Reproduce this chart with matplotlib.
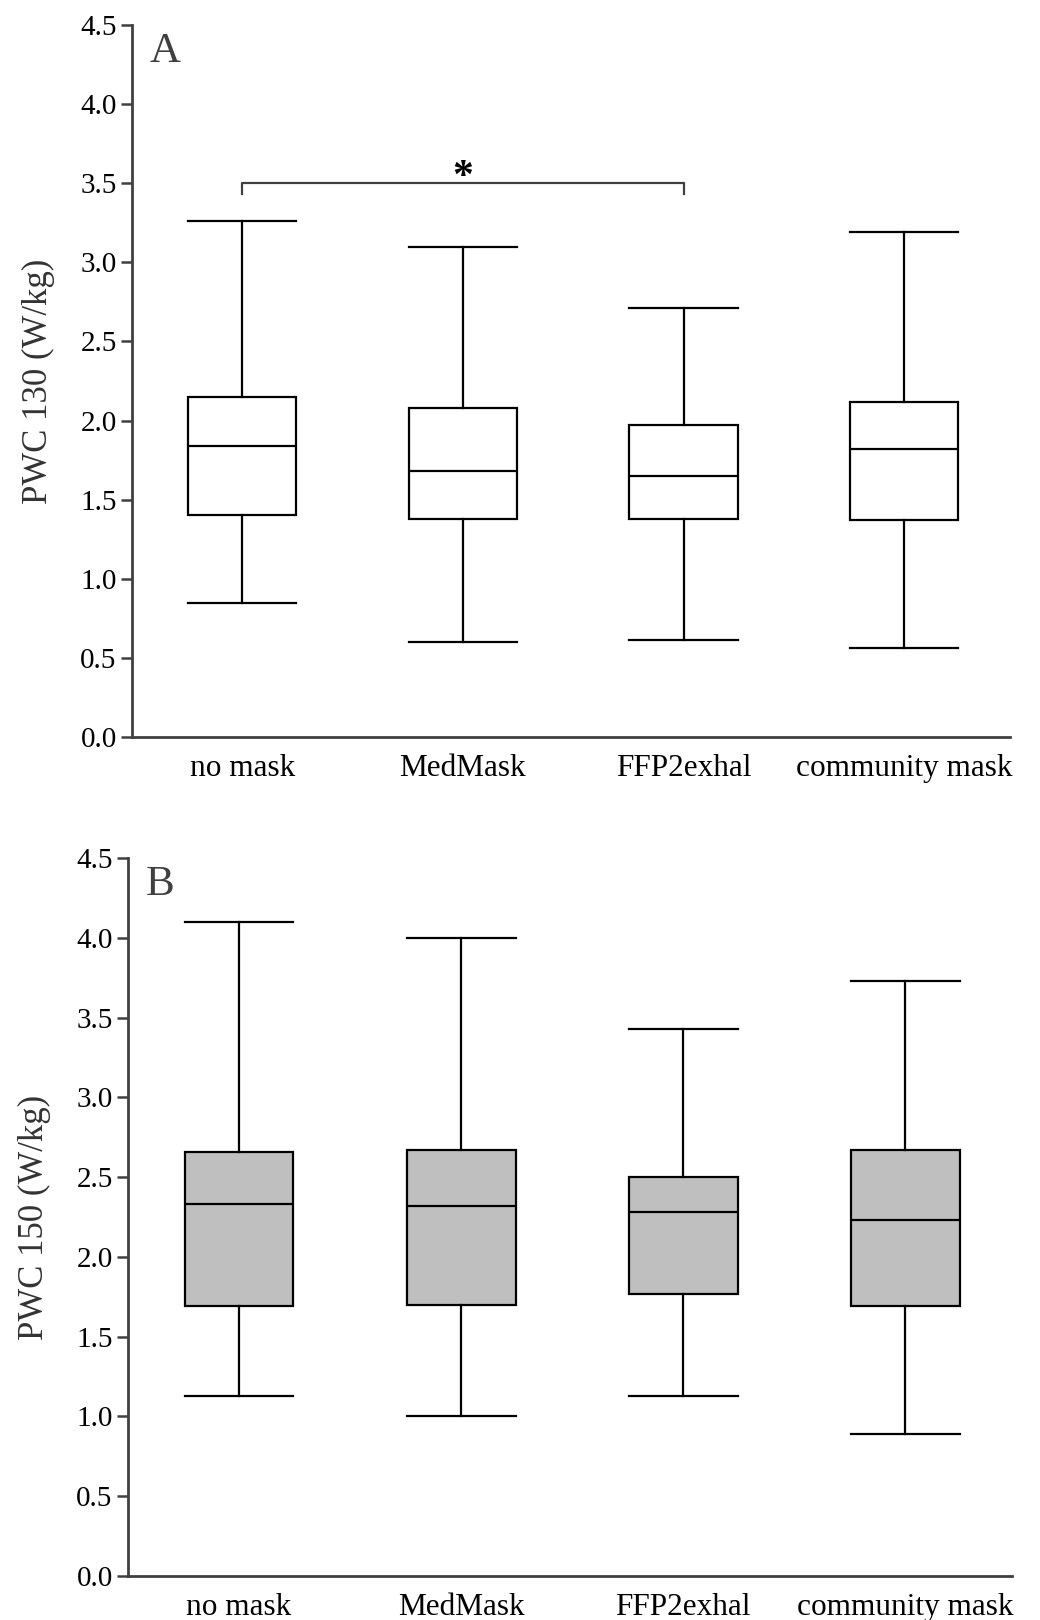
import numpy as np
import matplotlib.pyplot as plt

plt.rcParams['font.family'] = ['Liberation Serif', 'DejaVu Serif']

groups = ["no mask", "MedMask", "FFP2exhal", "community mask"]

# panel A: PWC 130 (W/kg)
a_low = [0.85, 0.60, 0.61, 0.56]
a_q1 = [1.40, 1.38, 1.38, 1.37]
a_med = [1.84, 1.68, 1.65, 1.82]
a_q3 = [2.15, 2.08, 1.97, 2.12]
a_high = [3.26, 3.10, 2.71, 3.19]

# panel B: PWC 150 (W/kg)
b_low = [1.13, 1.00, 1.13, 0.89]
b_q1 = [1.69, 1.70, 1.77, 1.69]
b_med = [2.33, 2.32, 2.28, 2.23]
b_q3 = [2.66, 2.67, 2.50, 2.67]
b_high = [4.10, 4.00, 3.43, 3.73]

yticks = [0.0, 0.5, 1.0, 1.5, 2.0, 2.5, 3.0, 3.5, 4.0, 4.5]
spine_col = "#404040"


def stats(low, q1, med, q3, high):
    return [dict(whislo=l, q1=a, med=m, q3=b, whishi=h, fliers=[])
            for l, a, m, b, h in zip(low, q1, med, q3, high)]


fig = plt.figure(figsize=(10.4, 16.2), dpi=100)
axA = fig.add_axes([132 / 1040, 1 - 737 / 1620, 878 / 1040, 712 / 1620])
axB = fig.add_axes([128 / 1040, 1 - 1576 / 1620, 884 / 1040, 718 / 1620])

panels = [
    (axA, stats(a_low, a_q1, a_med, a_q3, a_high), "white", "PWC 130 (W/kg)", "A"),
    (axB, stats(b_low, b_q1, b_med, b_q3, b_high), "#bfbfbf", "PWC 150 (W/kg)", "B"),
]

for ax, st, fill, ylab, letter in panels:
    pos = np.arange(len(groups))
    ax.bxp(st, positions=pos, widths=0.49, patch_artist=True, showfliers=False,
           boxprops=dict(facecolor=fill, edgecolor="black", linewidth=1.6),
           medianprops=dict(color="black", linewidth=1.6),
           whiskerprops=dict(color="black", linewidth=1.6),
           capprops=dict(color="black", linewidth=1.6),
           capwidths=0.49)
    ax.set_xlim(-0.5, 3.48)
    ax.set_ylim(0, 4.5)
    ax.set_yticks(yticks)
    ax.set_yticklabels([f"{t:.1f}" for t in yticks])
    ax.set_xticks(pos)
    ax.set_xticklabels(groups)
    ax.spines[['top', 'right']].set_visible(False)
    for s in ['left', 'bottom']:
        ax.spines[s].set_color(spine_col)
        ax.spines[s].set_linewidth(2)
    ax.tick_params(axis='y', length=8, width=1.8, color=spine_col, labelsize=21, pad=3)
    ax.tick_params(axis='x', length=0, labelsize=22.5, pad=12)
    ax.set_ylabel(ylab, fontsize=25, color="#333333", labelpad=18)
    ax.text(0.02, 0.99, letter, transform=ax.transAxes, fontsize=31,
            color=spine_col, va='top', ha='left')

# significance bracket panel A
axA.plot([0, 0, 2, 2], [3.43, 3.5, 3.5, 3.43], color=spine_col, linewidth=1.6)
axA.text(1, 3.535, "*", ha='center', va='center', fontsize=30, fontweight='bold', color="black")

fig.savefig("out.png", dpi=100)
